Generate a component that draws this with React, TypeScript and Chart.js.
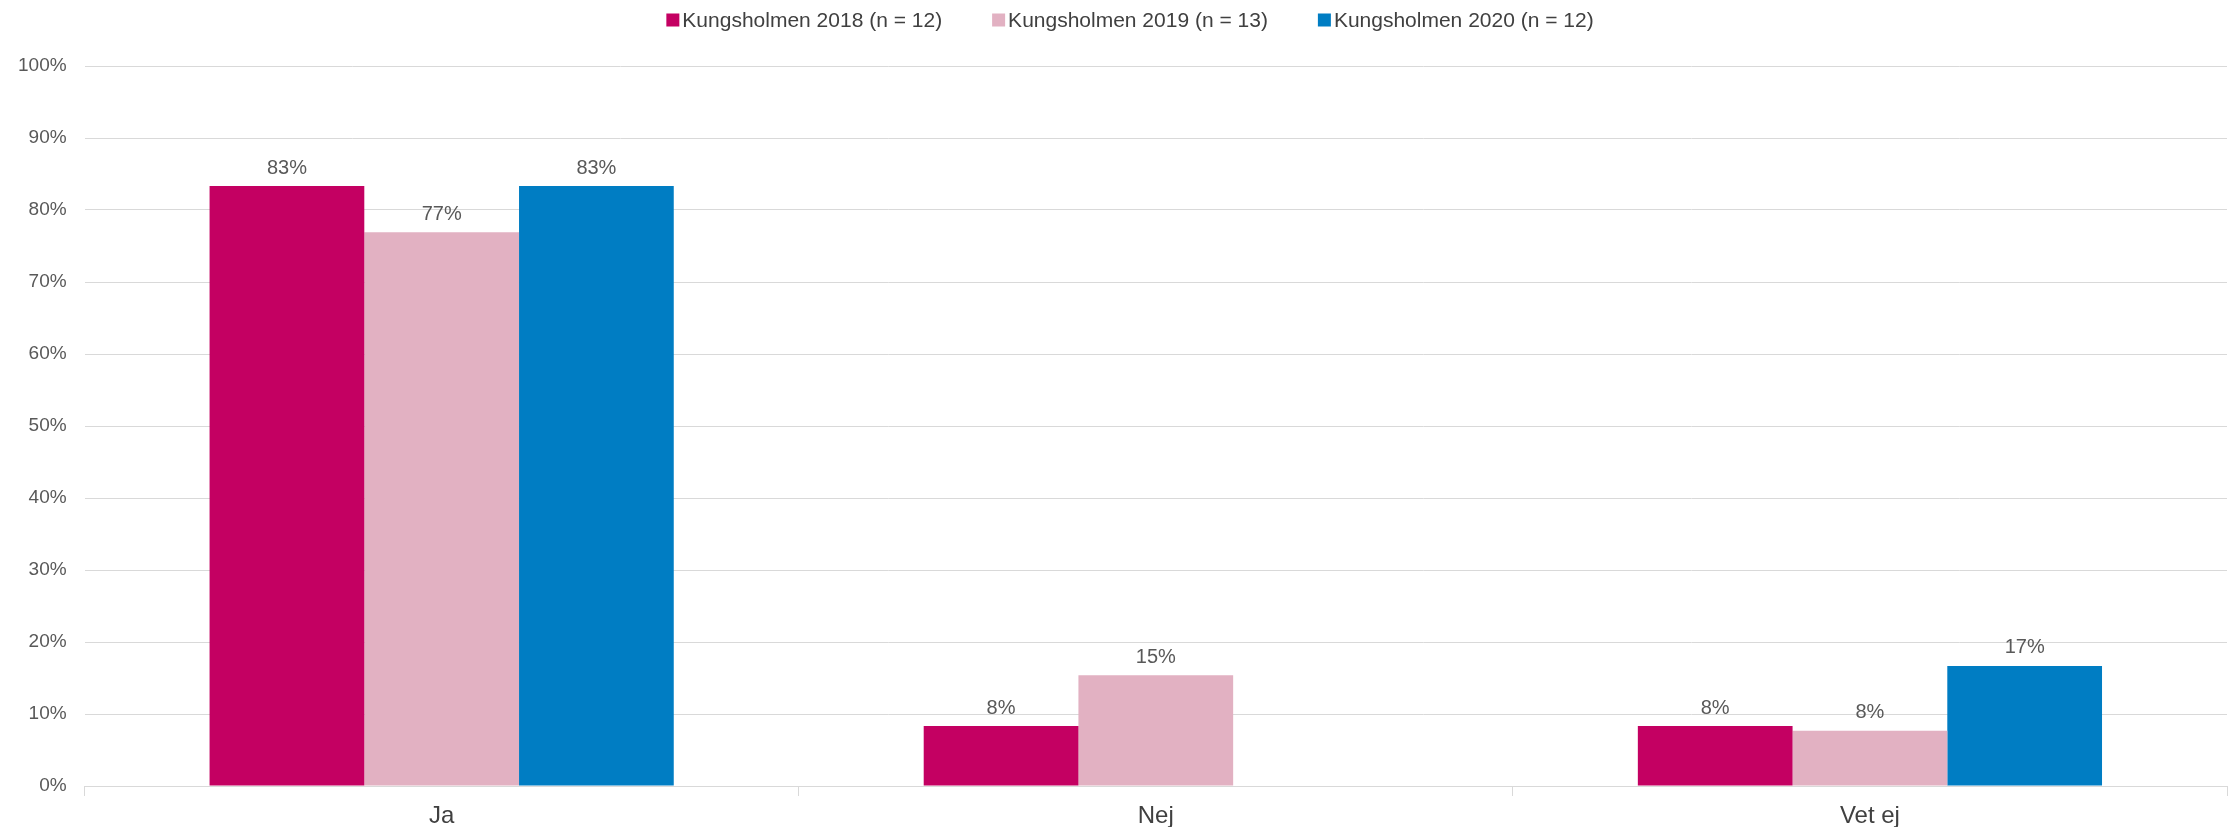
import React, { useEffect, useRef } from "react";
import { Chart, registerables } from "chart.js";

Chart.register(...registerables);

const categories = ["Ja", "Nej", "Vet ej"];
const seriesNames = [
  "Kungsholmen 2018 (n = 12)",
  "Kungsholmen 2019 (n = 13)",
  "Kungsholmen 2020 (n = 12)",
];
const values2018 = [83.33, 8.33, 8.33];
const values2019 = [76.92, 15.38, 7.69];
const values2020 = [83.33, 0, 16.67];
const seriesColors = ["#C40062", "#E2B1C2", "#007DC3"];

const FONT = "'Liberation Sans', Arial, sans-serif";

const dataLabelPlugin = {
  id: "dataLabels",
  afterDatasetsDraw(chart: any) {
    const ctx = chart.ctx;
    ctx.save();
    ctx.font = `20px ${FONT}`;
    ctx.fillStyle = "#595959";
    ctx.textAlign = "center";
    ctx.textBaseline = "bottom";
    chart.data.datasets.forEach((ds: any, i: number) => {
      const meta = chart.getDatasetMeta(i);
      meta.data.forEach((bar: any, j: number) => {
        const v = ds.data[j];
        if (!v) return;
        ctx.fillText(Math.round(v) + "%", bar.x, bar.y - 8);
      });
    });
    ctx.restore();
  },
};

const legendPlugin = {
  id: "customLegend",
  afterDraw(chart: any) {
    const ctx = chart.ctx;
    ctx.save();
    ctx.font = `21px ${FONT}`;
    const box = 13;
    const gapText = 3;
    const gapItem = 50;
    const datasets = chart.data.datasets;
    const widths = datasets.map((d: any) => box + gapText + ctx.measureText(d.label).width);
    const total = widths.reduce((a: number, b: number) => a + b, 0) + gapItem * (datasets.length - 1);
    let x = chart.width / 2 + 13 - total / 2;
    const yc = 20;
    ctx.textBaseline = "middle";
    ctx.textAlign = "left";
    datasets.forEach((d: any, i: number) => {
      ctx.fillStyle = d.backgroundColor;
      ctx.fillRect(x, yc - box / 2, box, box);
      ctx.fillStyle = "#404040";
      ctx.fillText(d.label, x + box + gapText, yc + 1);
      x += widths[i] + gapItem;
    });
    ctx.restore();
  },
};

export default function App() {
  const ref = useRef<HTMLCanvasElement>(null);
  useEffect(() => {
    document.body.style.margin = "0";
    const chart = new Chart(ref.current!, {
      type: "bar",
      data: {
        labels: categories,
        datasets: [values2018, values2019, values2020].map((d, i) => ({
          label: seriesNames[i],
          data: d,
          backgroundColor: seriesColors[i],
          borderWidth: 0,
          categoryPercentage: 0.65,
          barPercentage: 1.0,
        })),
      },
      options: {
        animation: false,
        responsive: false,
        maintainAspectRatio: false,
        layout: { padding: { left: 0, right: 7, top: 66, bottom: 0 } },
        plugins: {
          legend: { display: false },
          tooltip: { enabled: false },
        },
        scales: {
          x: {
            offset: true,
            afterFit: (scale: any) => {
              scale.height = 41;
            },
            grid: {
              display: true,
              offset: true,
              drawOnChartArea: false,
              drawTicks: true,
              tickLength: 10,
              color: "#D9D9D9",
            },
            border: { display: true, color: "#D9D9D9" },
            ticks: {
              color: "#404040",
              padding: 8,
              font: { family: FONT, size: 24, lineHeight: 1.0 },
            },
          },
          y: {
            min: 0,
            max: 100,
            ticks: {
              stepSize: 10,
              padding: 18,
              color: "#595959",
              font: { family: FONT, size: 19 },
              callback: (v: any) => v + "%",
            },
            grid: { color: "#D9D9D9", drawTicks: false },
            border: { display: false },
          },
        },
      },
      plugins: [dataLabelPlugin, legendPlugin],
    });
    return () => chart.destroy();
  }, []);
  return (
    <div style={{ width: 2234, height: 827 }}>
      <canvas ref={ref} width={2234} height={827} style={{ display: "block" }} />
    </div>
  );
}
